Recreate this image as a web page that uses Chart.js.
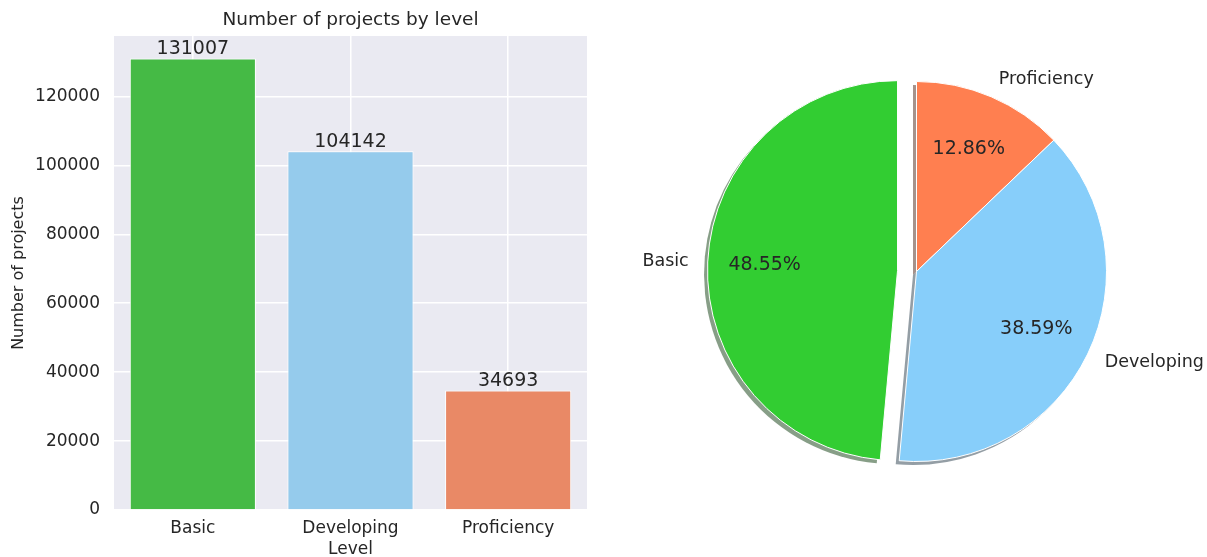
<!DOCTYPE html>
<html>
<head>
<meta charset="utf-8">
<script src="https://cdn.jsdelivr.net/npm/chart.js@4.4.0/dist/chart.umd.min.js"></script>
<style>
  html, body { margin: 0; padding: 0; background: #ffffff; }
  body { width: 1207px; height: 557px; position: relative; overflow: hidden; }
  #barBox { position: absolute; left: 0; top: 0; width: 600px; height: 557px; }
  #pieBox { position: absolute; left: 600px; top: 0; width: 607px; height: 557px; }
</style>
</head>
<body>
<div id="barBox"><canvas id="barChart"></canvas></div>
<div id="pieBox"><canvas id="pieChart"></canvas></div>
<script>
// ---- data ----
const levels = ['Basic', 'Developing', 'Proficiency'];
const projectCounts = [131007, 104142, 34693];
const yTicks = [0, 20000, 40000, 60000, 80000, 100000, 120000];
const barTitle = 'Number of projects by level';
const xAxisTitle = 'Level';
const yAxisTitle = 'Number of projects';

// ---- styles ----
const barColors = ['#45ba45', '#95cbec', '#e98966'];
const pieColors = ['#32cd32', '#87cefa', '#ff7f50'];
const pieExplode = [0.1, 0, 0];
const textColor = '#262626';
const FONT = "'DejaVu Sans', sans-serif";

Chart.defaults.font.family = FONT;
Chart.defaults.color = textColor;

// ---- bar chart ----
const plotBg = {
  id: 'plotBg',
  beforeDraw(chart) {
    const {ctx, chartArea: a} = chart;
    ctx.save();
    ctx.fillStyle = '#eaeaf2';
    ctx.fillRect(a.left, a.top, a.right - a.left, a.bottom - a.top);
    ctx.restore();
  },
  afterDraw(chart) {
    const {ctx, chartArea: a} = chart;
    ctx.save();
    ctx.font = "18.5px " + FONT;
    ctx.fillStyle = textColor;
    ctx.textAlign = 'center';
    ctx.textBaseline = 'middle';
    ctx.fillText(barTitle, (a.left + a.right) / 2, 20);
    ctx.restore();
  }
};
const barValues = {
  id: 'barValues',
  afterDatasetsDraw(chart) {
    const {ctx} = chart;
    const meta = chart.getDatasetMeta(0);
    ctx.save();
    ctx.font = "19px " + FONT;
    ctx.fillStyle = textColor;
    ctx.textAlign = 'center';
    ctx.textBaseline = 'alphabetic';
    meta.data.forEach((bar, i) => {
      ctx.fillText(String(projectCounts[i]), bar.x, bar.y - 4.5);
    });
    ctx.restore();
  }
};

new Chart(document.getElementById('barChart'), {
  type: 'bar',
  data: {
    labels: levels,
    datasets: [{
      data: projectCounts,
      backgroundColor: barColors,
      borderColor: '#ffffff',
      borderWidth: 1,
      categoryPercentage: 0.8,
      barPercentage: 1.0
    }]
  },
  options: {
    responsive: true,
    maintainAspectRatio: false,
    animation: false,
    layout: { padding: { left: 0, right: 13, top: 36, bottom: 0 } },
    plugins: {
      legend: { display: false },
      tooltip: { enabled: false },
      title: { display: false }
    },
    scales: {
      x: {
        grid: { color: '#ffffff', lineWidth: 1.5, offset: false, drawTicks: false },
        border: { display: false },
        ticks: { color: textColor, font: { size: 17 }, padding: 8 },
        title: {
          display: true, text: xAxisTitle, color: textColor,
          font: { size: 17, lineHeight: 1.0 }, padding: { top: 0, bottom: -1.5 }
        },
        afterFit(scale) { scale.height = 47; }
      },
      y: {
        min: 0,
        max: Math.max(...projectCounts) * 1.05,
        grid: { color: '#ffffff', lineWidth: 1.5, drawTicks: false },
        border: { display: false },
        ticks: {
          color: textColor, font: { size: 17 }, padding: 14,
          callback: (v) => String(v)
        },
        afterBuildTicks(scale) { scale.ticks = yTicks.map(v => ({ value: v })); },
        title: {
          display: true, text: yAxisTitle, color: textColor,
          font: { size: 16, lineHeight: 1.2 }, padding: { top: 9, bottom: 0 }
        },
        afterFit(scale) { scale.width = 114; }
      }
    }
  },
  plugins: [plotBg, barValues]
});

// ---- pie chart ----
// matplotlib draws counter-clockwise from the top; Chart.js goes clockwise, so reverse the order.
const pieLabels = levels.slice().reverse();
const pieValues = projectCounts.slice().reverse();
const pieBg = pieColors.slice().reverse();
const pieExp = pieExplode.slice().reverse();
const total = projectCounts.reduce((a, b) => a + b, 0);
const PIE_R = 190;

function arcShift(i, arc) {
  return pieExp[i] * arc.outerRadius;
}
function hexToRgb(h) {
  const n = parseInt(h.slice(1), 16);
  return [(n >> 16) & 255, (n >> 8) & 255, n & 255];
}

const pieExplodePlugin = {
  id: 'pieExplode',
  beforeDatasetsDraw(chart) {
    const {ctx} = chart;
    const meta = chart.getDatasetMeta(0);
    // shadows (below all wedges), then install shift wrappers
    ctx.save();
    meta.data.forEach((arc, i) => {
      const p = arc.getProps(['x', 'y', 'startAngle', 'endAngle', 'outerRadius'], true);
      const mid = (p.startAngle + p.endAngle) / 2;
      const s = pieExp[i] * p.outerRadius;
      const cx = p.x + Math.cos(mid) * s - 3.5;
      const cy = p.y + Math.sin(mid) * s + 3.5;
      const [r, g, b] = hexToRgb(pieBg[i]);
      ctx.fillStyle = `rgba(${Math.round(r * 0.3)},${Math.round(g * 0.3)},${Math.round(b * 0.3)},0.5)`;
      ctx.beginPath();
      ctx.moveTo(cx, cy);
      ctx.arc(cx, cy, p.outerRadius, p.startAngle, p.endAngle);
      ctx.closePath();
      ctx.fill();

      if (!arc.__wrapped) {
        const orig = arc.draw;
        arc.draw = function (c, area) {
          const mm = (this.startAngle + this.endAngle) / 2;
          const ss = pieExp[i] * this.outerRadius;
          c.save();
          c.translate(Math.cos(mm) * ss, Math.sin(mm) * ss);
          orig.call(this, c, area);
          c.restore();
        };
        arc.__wrapped = true;
      }
    });
    ctx.restore();
  },
  afterDatasetsDraw(chart) {
    const {ctx} = chart;
    const meta = chart.getDatasetMeta(0);
    ctx.save();
    ctx.fillStyle = textColor;
    ctx.textBaseline = 'middle';
    meta.data.forEach((arc, i) => {
      const p = arc.getProps(['x', 'y', 'startAngle', 'endAngle', 'outerRadius'], true);
      const mid = (p.startAngle + p.endAngle) / 2;
      const s = pieExp[i] * p.outerRadius;
      const cx = p.x + Math.cos(mid) * s;
      const cy = p.y + Math.sin(mid) * s;
      // category label at 1.1 r
      const lx = cx + Math.cos(mid) * p.outerRadius * 1.1;
      const ly = cy + Math.sin(mid) * p.outerRadius * 1.1;
      ctx.font = "17.5px " + FONT;
      ctx.textAlign = Math.cos(mid) > 0 ? 'left' : 'right';
      ctx.fillText(pieLabels[i], lx, ly);
      // percentage at 0.7 r
      const px = cx + Math.cos(mid) * p.outerRadius * 0.7;
      const py = cy + Math.sin(mid) * p.outerRadius * 0.7;
      ctx.font = "19px " + FONT;
      ctx.textAlign = 'center';
      ctx.fillText((pieValues[i] / total * 100).toFixed(2) + '%', px, py);
    });
    ctx.restore();
  }
};

new Chart(document.getElementById('pieChart'), {
  type: 'pie',
  data: {
    labels: pieLabels,
    datasets: [{
      data: pieValues,
      backgroundColor: pieBg,
      borderColor: '#ffffff',
      borderWidth: 1
    }]
  },
  options: {
    responsive: true,
    maintainAspectRatio: false,
    animation: false,
    radius: PIE_R,
    layout: { padding: { left: 26, right: 0, top: 0, bottom: 14 } },
    plugins: {
      legend: { display: false },
      tooltip: { enabled: false }
    }
  },
  plugins: [pieExplodePlugin]
});
</script>
</body>
</html>
